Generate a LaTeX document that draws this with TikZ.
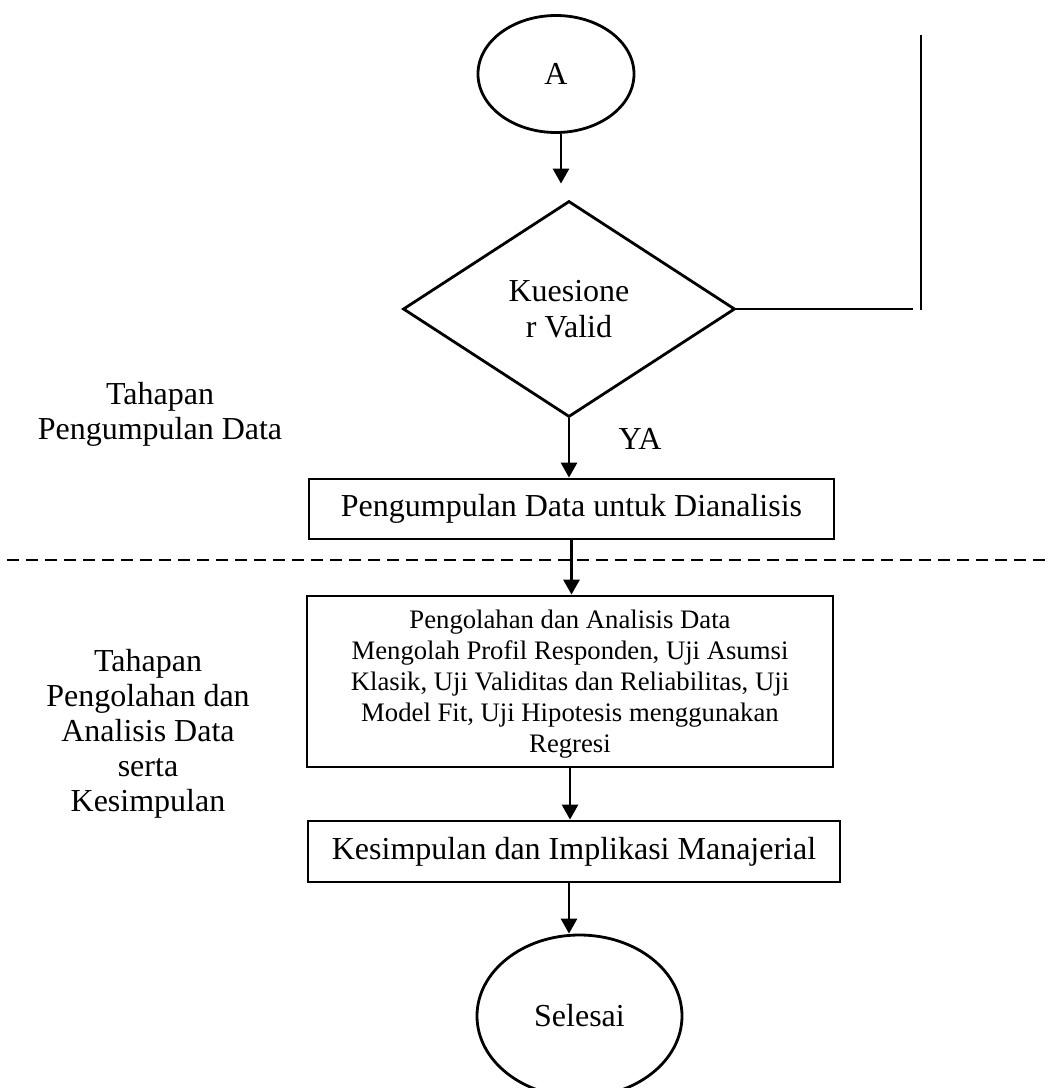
\documentclass[tikz,border=0pt]{standalone}
\usepackage{fontspec}
\setmainfont{Liberation Serif}
\usetikzlibrary{shapes.geometric,arrows.meta}

\begin{document}
\begin{tikzpicture}[x=1pt,y=-1pt,
	garis/.style={line width=2.8pt},
	panah/.style={garis,-{Triangle[length=15pt,width=16pt]}},
	huruf/.style={font=\fontsize{32}{36}\selectfont},
	elips/.style={ellipse,draw,garis,huruf,inner sep=0pt},
	kotak/.style={rectangle,draw,garis,huruf,inner sep=0pt,align=center},
	ketupat/.style={diamond,draw,garis,huruf,inner sep=0pt,align=center},
	keterangan/.style={align=center,font=\fontsize{32}{35}\selectfont}]
	\useasboundingbox (0,0) rectangle (1051,1088);
	
	% Simpul alur
	\node[elips,minimum width=156pt,minimum height=117pt] (A) at (556,74) {A};
	\node[ketupat,aspect=1.54,minimum width=332pt,minimum height=216pt] (valid) at (569,309) {Kuesione\\r Valid};
	\node[kotak,minimum width=525pt,minimum height=60pt] (kumpul) at (571.5,509) {Pengumpulan Data untuk Dianalisis};
	\node[kotak,minimum width=526pt,minimum height=171pt,font=\fontsize{26.7}{31}\selectfont] (olah) at (570,681.5) {\rule{0pt}{24pt}Pengolahan dan Analisis Data\\Mengolah Profil Responden, Uji Asumsi\\Klasik, Uji Validitas dan Reliabilitas, Uji\\Model Fit, Uji Hipotesis menggunakan\\Regresi};
	\node[kotak,minimum width=532pt,minimum height=61pt] (simpul) at (574,851.5) {Kesimpulan dan Implikasi Manajerial};
	\node[elips,minimum width=205pt,minimum height=162pt] (selesai) at (579.5,1016) {Selesai};
	
	% Keterangan tahapan
	\node[keterangan] (tahap1) at (160,414) {Tahapan\\Pengumpulan Data};
	\node[keterangan] (tahap2) at (148,734) {Tahapan\\Pengolahan dan\\Analisis Data\\serta\\Kesimpulan};
	\node[huruf] (ya) at (640,439) {YA};
	
	% Panah
	\draw[panah] ([xshift=5pt]A.south) -- ([xshift=-8pt,yshift=16pt]valid.north);
	\draw[panah] (valid.south) -- (valid.south |- kumpul.north);
	\draw[panah] (kumpul.south) -- (kumpul.south |- olah.north);
	\draw[panah] (olah.south) -- (olah.south |- simpul.north);
	\draw[panah] ([xshift=-5pt]simpul.south) -- ([xshift=-5pt]simpul.south |- selesai.north);
	
	% Garis tidak valid
	\coordinate (ujung) at (913,310);
	\coordinate (atas) at (921,35);
	\coordinate (bawah) at (921,310);
	\draw[garis] (valid.east) -- (valid.east -| ujung);
	\draw[garis] (atas) -- (bawah);
	
	% Batas tahapan
	\coordinate (kiri) at (7,560);
	\coordinate (kanan) at (1051,560);
	\draw[garis,dash pattern=on 12pt off 7pt] (kiri) -- (kanan);
\end{tikzpicture}
\end{document}
